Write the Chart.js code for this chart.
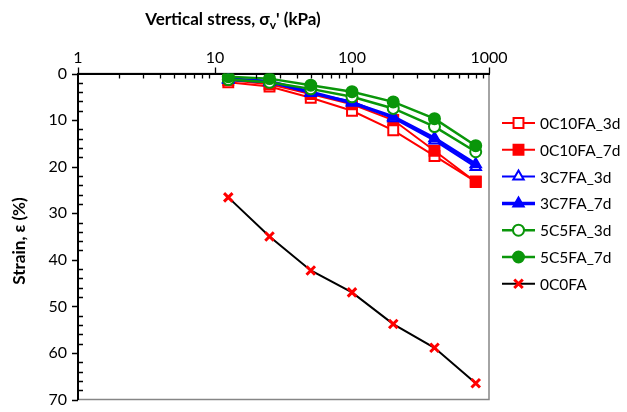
<!DOCTYPE html>
<html>
<head>
<meta charset="utf-8">
<script src="https://cdn.jsdelivr.net/npm/chart.js@4.4.1/dist/chart.umd.min.js"></script>
<style>
  html, body { margin: 0; padding: 0; background: #fff; }
  #wrap { width: 627px; height: 412px; position: relative; }
</style>
</head>
<body>
<div id="wrap"><canvas id="strain-chart"></canvas></div>
<script>
// vertical stress steps (kPa)
var stress = [12.5, 25, 50, 100, 200, 400, 800];
// strain (%)
var s0C10FA_3d = [1.9, 2.8, 5.2, 8.0, 12.2, 17.7, 23.2];
var s0C10FA_7d = [1.4, 2.3, 4.4, 6.6, 10.0, 16.6, 23.3];
var s3C7FA_3d = [1.4, 1.9, 4.2, 6.0, 9.6, 14.4, 20.1];
var s3C7FA_7d = [1.2, 1.7, 4.0, 6.3, 9.3, 13.9, 19.5];
var s5C5FA_3d = [1.3, 1.9, 3.3, 5.0, 7.5, 11.4, 16.8];
var s5C5FA_7d = [0.7, 1.1, 2.5, 3.9, 6.1, 9.7, 15.5];
var s0C0FA = [26.6, 35.0, 42.3, 47.0, 53.8, 58.9, 66.5];
var xTickLabels = [1, 10, 100, 1000];
var yTickLabels = [0, 10, 20, 30, 40, 50, 60, 70];

var RED = '#ff0000', BLUE = '#0000ff', GREEN = '#0a960a', BLACK = '#000000';
var FONT = 'Lato, "Open Sans", sans-serif';

function pts(ys) {
    return stress.map(function (x, i) { return { x: x, y: ys[i] }; });
}

function series(label, ys, color, style, filled, lw, r, order) {
    return {
        label: label,
        data: pts(ys),
        showLine: true,
        borderColor: color,
        borderWidth: lw,
        pointStyle: style,
        pointRadius: r,
        pointBorderWidth: 2,
        pointBorderColor: color,
        pointBackgroundColor: filled ? color : '#ffffff',
        tension: 0,
        order: order
    };
}

var datasets = [
    series('0C10FA_3d', s0C10FA_3d, RED, 'rect', false, 2, 7, 5),
    series('0C10FA_7d', s0C10FA_7d, RED, 'rect', true, 2, 7, 4),
    series('3C7FA_3d', s3C7FA_3d, BLUE, 'triangle', false, 2, 6, 3),
    series('3C7FA_7d', s3C7FA_7d, BLUE, 'triangle', true, 3.5, 6, 2),
    series('5C5FA_3d', s5C5FA_3d, GREEN, 'circle', false, 2.5, 5.5, 1),
    series('5C5FA_7d', s5C5FA_7d, GREEN, 'circle', true, 2.5, 5.5, 0),
    series('0C0FA', s0C0FA, RED, 'crossRot', false, 2, 6, 6)
];
datasets[6].borderColor = BLACK;
datasets[6].pointBorderWidth = 3;

var decorPlugin = {
    id: 'decor',
    beforeDraw: function (chart) {
        var a = chart.chartArea, ctx = chart.ctx;
        ctx.save();
        ctx.strokeStyle = '#868686';
        ctx.lineWidth = 1.5;
        ctx.strokeRect(a.left, a.top, a.right - a.left, a.bottom - a.top);
        ctx.restore();
    },
    afterDraw: function (chart) {
        var ctx = chart.ctx, a = chart.chartArea;
        var xs = chart.scales.x, ys = chart.scales.y;
        ctx.save();
        ctx.strokeStyle = '#000';
        ctx.lineWidth = 1.3;
        ctx.beginPath();
        // x ticks: majors outward (up), minors inward (down)
        for (var d = 1; d < 1000; d *= 10) {
            for (var m = 1; m <= 9; m++) {
                var v = d * m;
                var px = Math.round(xs.getPixelForValue(v)) + 0.5;
                if (m === 1) { ctx.moveTo(px, a.top); ctx.lineTo(px, a.top - 6); }
                else { ctx.moveTo(px, a.top); ctx.lineTo(px, a.top + 5); }
            }
        }
        var pl = Math.round(xs.getPixelForValue(1000)) + 0.5;
        ctx.moveTo(pl, a.top); ctx.lineTo(pl, a.top - 6);
        // y ticks: majors outward (left), minors inward (right)
        for (var s = 0; s <= 70; s += 2) {
            var py = Math.round(ys.getPixelForValue(s)) + 0.5;
            if (s % 10 === 0) { ctx.moveTo(a.left, py); ctx.lineTo(a.left - 6, py); }
            else { ctx.moveTo(a.left, py); ctx.lineTo(a.left + 5, py); }
        }
        ctx.stroke();

        // axis titles
        ctx.fillStyle = '#000';
        ctx.textBaseline = 'middle';
        var big = 'bold 17px ' + FONT, small = 'bold 12px ' + FONT;
        var p1 = 'Vertical stress, \u03c3', p2 = 'v', p3 = "' (kPa)";
        ctx.font = big; var w1 = ctx.measureText(p1).width, w3 = ctx.measureText(p3).width;
        ctx.font = small; var w2 = ctx.measureText(p2).width;
        var x0 = 233 - (w1 + w2 + w3) / 2, ty = 20;
        ctx.font = big; ctx.textAlign = 'left';
        ctx.fillText(p1, x0, ty);
        ctx.font = small; ctx.fillText(p2, x0 + w1, ty + 5);
        ctx.font = big; ctx.fillText(p3, x0 + w1 + w2, ty);

        ctx.translate(20, 241);
        ctx.rotate(-Math.PI / 2);
        ctx.textAlign = 'center';
        ctx.fillText('Strain, \u03b5 (%)', 0, 0);
        ctx.restore();

        // legend
        ctx.save();
        var lx0 = 502, lx1 = 535, ly = 123, step = 26.8;
        ctx.font = '15.5px ' + FONT;
        ctx.textAlign = 'left';
        ctx.textBaseline = 'middle';
        chart.data.datasets.forEach(function (ds, i) {
            var y = ly + i * step;
            ctx.strokeStyle = ds.borderColor;
            ctx.lineWidth = ds.borderWidth;
            ctx.beginPath(); ctx.moveTo(lx0, y); ctx.lineTo(lx1, y); ctx.stroke();
            ctx.fillStyle = ds.pointBackgroundColor;
            ctx.strokeStyle = ds.pointBorderColor;
            ctx.lineWidth = ds.pointBorderWidth;
            Chart.helpers.drawPoint(ctx, { pointStyle: ds.pointStyle, radius: ds.pointRadius, borderWidth: ds.pointBorderWidth }, (lx0 + lx1) / 2, y);
            ctx.fillStyle = '#000';
            ctx.fillText(ds.label, 540, y + 1);
        });
        ctx.restore();
    }
};

new Chart(document.getElementById('strain-chart'), {
    type: 'scatter',
    data: { datasets: datasets },
    options: {
        responsive: true,
        maintainAspectRatio: false,
        animation: false,
        layout: { padding: { left: 0, right: 138, top: 43.5, bottom: 12.5 } },
        plugins: { legend: { display: false }, tooltip: { enabled: false } },
        scales: {
            x: {
                type: 'logarithmic',
                position: 'top',
                min: 1,
                max: 1000,
                afterBuildTicks: function (scale) {
                    scale.ticks = xTickLabels.map(function (v) { return { value: v }; });
                },
                afterFit: function (scale) {
                    scale.height = 30;
                    scale.paddingLeft = 0;
                    scale.paddingRight = 0;
                },
                grid: { display: false, drawTicks: false },
                border: { display: true, color: '#000', width: 2 },
                ticks: {
                    autoSkip: false,
                    maxRotation: 0,
                    padding: 6,
                    color: '#000',
                    font: { family: FONT, size: 16 },
                    callback: function (v) { return String(v); }
                }
            },
            y: {
                type: 'linear',
                reverse: true,
                min: 0,
                max: 70,
                afterBuildTicks: function (scale) {
                    scale.ticks = yTickLabels.map(function (v) { return { value: v }; });
                },
                afterFit: function (scale) {
                    scale.width = 78;
                    scale.paddingTop = 0;
                    scale.paddingBottom = 0;
                },
                grid: { display: false, drawTicks: false },
                border: { display: true, color: '#000', width: 2 },
                ticks: {
                    padding: 11,
                    color: '#000',
                    font: { family: FONT, size: 16 }
                }
            }
        }
    },
    plugins: [decorPlugin]
});
</script>
</body>
</html>
